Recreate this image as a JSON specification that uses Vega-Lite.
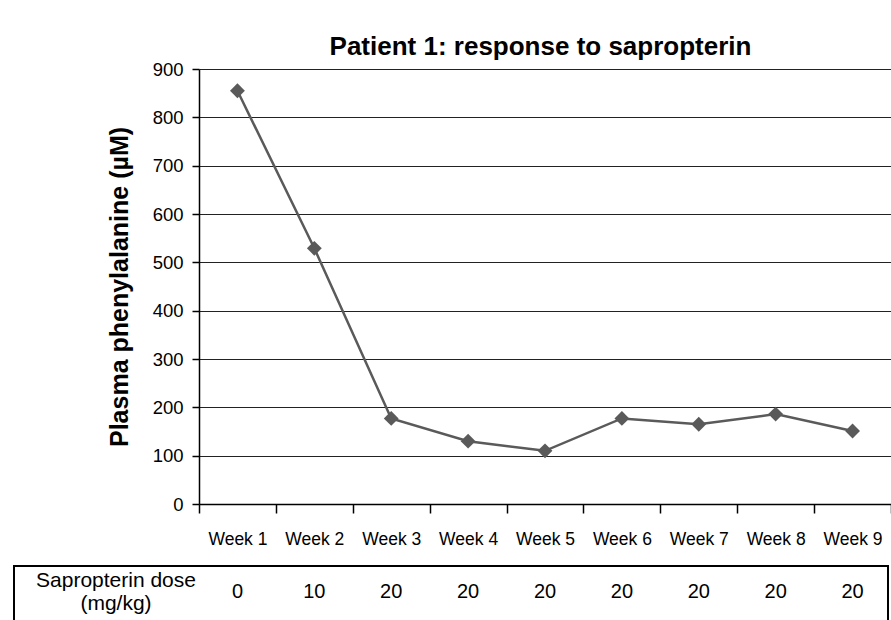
{
  "$schema": "https://vega.github.io/schema/vega-lite/v6.json",
  "padding": {"left": 13, "top": 34, "right": 0, "bottom": 0},
  "config": {"font": "Liberation Sans", "view": {"stroke": null}},
  "datasets": {
    "weeks": [
      {"week": "Week 1", "phe": 855, "dose": 0},
      {"week": "Week 2", "phe": 529, "dose": 10},
      {"week": "Week 3", "phe": 177, "dose": 20},
      {"week": "Week 4", "phe": 130, "dose": 20},
      {"week": "Week 5", "phe": 110, "dose": 20},
      {"week": "Week 6", "phe": 177, "dose": 20},
      {"week": "Week 7", "phe": 165, "dose": 20},
      {"week": "Week 8", "phe": 186, "dose": 20},
      {"week": "Week 9", "phe": 151, "dose": 20}
    ],
    "header": [{"label": "Sapropterin dose\n(mg/kg)"}]
  },
  "spacing": 17,
  "vconcat": [
    {
      "width": 877,
      "height": 435,
      "title": {"text": "Patient 1: response to sapropterin", "fontSize": 26, "fontWeight": "bold", "color": "black", "dx": 88, "offset": 0},
      "data": {"name": "weeks"},
      "encoding": {
        "x": {
          "field": "week", "type": "ordinal", "sort": null,
          "scale": {"type": "band", "domain": ["Week 1", "Week 2", "Week 3", "Week 4", "Week 5", "Week 6", "Week 7", "Week 8", "Week 9"], "range": [185, 877], "paddingInner": 0, "paddingOuter": 0},
          "axis": {"title": null, "labelAngle": 0, "labelFontSize": 17.5, "labelColor": "black", "labelPadding": 17, "domainColor": "black", "domainWidth": 1.5, "tickBand": "extent", "tickColor": "black", "tickSize": 9, "tickWidth": 1.5, "grid": false}
        },
        "y": {
          "field": "phe", "type": "quantitative",
          "scale": {"domain": [0, 900], "nice": false},
          "axis": {"values": [0, 100, 200, 300, 400, 500, 600, 700, 800, 900], "offset": -185, "title": "Plasma phenylalanine (µM)", "titleFontSize": 25, "titleFontWeight": "bold", "titleColor": "black", "titlePadding": 20, "labelFontSize": 18.5, "labelColor": "black", "labelPadding": 9, "tickColor": "black", "tickSize": 7, "tickWidth": 1.5, "domainColor": "black", "domainWidth": 1.5, "grid": true, "gridColor": "#222222", "gridWidth": 1.2, "gridOpacity": 1}
        }
      },
      "layer": [
        {"mark": {"type": "line", "color": "#5a5a5a", "strokeWidth": 2.5}},
        {"mark": {"type": "point", "shape": "diamond", "size": 220, "filled": true, "color": "#5a5a5a", "opacity": 1}}
      ]
    },
    {
      "width": 874,
      "height": 58,
      "view": {"stroke": "black", "strokeWidth": 2},
      "layer": [
        {
          "data": {"name": "weeks"},
          "mark": {"type": "text", "fontSize": 20, "color": "black", "dy": -3},
          "encoding": {
            "x": {"field": "week", "type": "ordinal", "sort": null, "scale": {"type": "band", "domain": ["Week 1", "Week 2", "Week 3", "Week 4", "Week 5", "Week 6", "Week 7", "Week 8", "Week 9"], "range": [185, 877], "paddingInner": 0, "paddingOuter": 0}, "axis": null},
            "text": {"field": "dose", "type": "quantitative"}
          }
        },
        {
          "data": {"name": "header"},
          "mark": {"type": "text", "fontSize": 21, "color": "black", "lineBreak": "\n", "lineHeight": 23, "dy": -14},
          "encoding": {
            "x": {"field": "label", "type": "nominal", "scale": {"type": "band", "range": [0, 204]}, "axis": null},
            "text": {"field": "label"}
          }
        }
      ],
      "resolve": {"scale": {"x": "independent"}}
    }
  ]
}
